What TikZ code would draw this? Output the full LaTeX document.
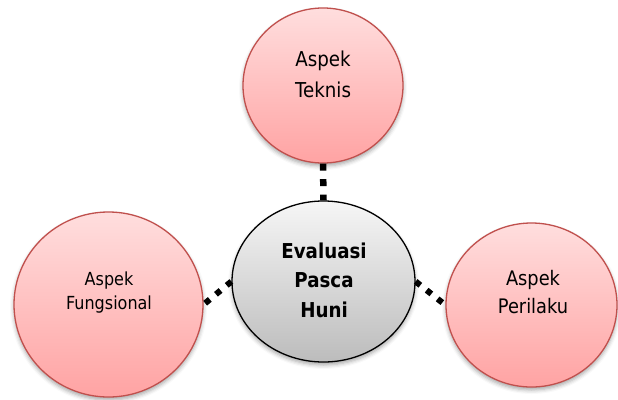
\documentclass[tikz,border=0pt]{standalone}
\usepackage{fontspec}
\setmainfont{DejaVu Sans}[FakeStretch=0.89]
\usetikzlibrary{shapes.geometric,shadows.blur}
\definecolor{pinkTop}{RGB}{255,222,222}
\definecolor{pinkBot}{RGB}{255,163,163}
\definecolor{pinkLine}{RGB}{192,80,77}
\definecolor{grayTop}{RGB}{246,246,246}
\definecolor{grayBot}{RGB}{188,188,188}
\tikzset{
  aspek/.style={ellipse, draw=pinkLine, line width=1.3pt, top color=pinkTop, bottom color=pinkBot,
    inner sep=0pt, blur shadow={shadow xshift=0pt, shadow yshift=-3pt, shadow blur radius=4pt, shadow opacity=35}},
  pusat/.style={ellipse, draw=black, line width=1.3pt, top color=grayTop, bottom color=grayBot,
    inner sep=0pt, blur shadow={shadow xshift=0pt, shadow yshift=-3pt, shadow blur radius=4pt, shadow opacity=35}},
  label/.style={anchor=base, align=center, inner sep=0pt},
  conn/.style={line width=6.5pt, black, dash pattern=on 7pt off 8.5pt}
}
\begin{document}
\begin{tikzpicture}[x=1pt,y=-1pt]
\useasboundingbox (0,0) rectangle (618,399);
\node[aspek, minimum width=160pt, minimum height=155pt] (teknis) at (323,85.5) {};
\node[aspek, minimum width=189pt, minimum height=185pt] (fungsi) at (108.5,304.5) {};
\node[aspek, minimum width=171pt, minimum height=164pt] (perilaku) at (531.5,305) {};
\node[pusat, minimum width=183pt, minimum height=161pt] (epoh) at (323.5,281.5) {};
\node[label, font=\fontsize{20.5}{31}\selectfont] (tTeknis) at (323,97) {Aspek\\Teknis};
\node[label, font=\fontsize{18}{24}\selectfont] (tFungsi) at (109,309) {Aspek\\Fungsional};
\node[label, font=\fontsize{20}{28}\selectfont] (tPerilaku) at (533,313) {Aspek\\Perilaku};
\node[label, font=\fontsize{20.5}{29.5}\selectfont\bfseries] (tEpoh) at (324,317) {Evaluasi\\Pasca\\Huni};
\draw[conn] (teknis.south) -- (epoh.north);
\draw[conn, line width=6pt, dash pattern=on 6pt off 8pt, dash phase=-2pt] (fungsi.east) -- (epoh.west);
\draw[conn, line width=6pt, dash pattern=on 6pt off 8pt] (epoh.east) -- (perilaku.west);
\end{tikzpicture}
\end{document}
